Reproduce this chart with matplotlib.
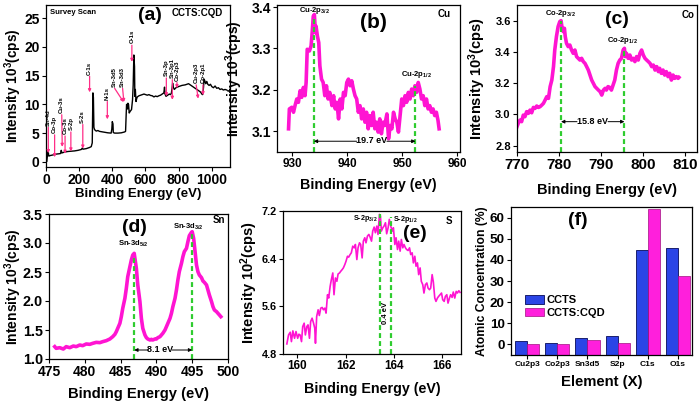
import numpy as np
import matplotlib
matplotlib.use("Agg")
import matplotlib.pyplot as plt

plt.rcParams['font.family'] = ['Liberation Sans', 'DejaVu Sans']
plt.rcParams['font.weight'] = 'bold'
plt.rcParams['axes.labelweight'] = 'bold'
plt.rcParams['mathtext.fontset'] = 'custom'
plt.rcParams['mathtext.rm'] = 'Liberation Sans:bold'
plt.rcParams['mathtext.bf'] = 'Liberation Sans:bold'
plt.rcParams['mathtext.default'] = 'bf'

# ---------------- data ----------------
# (a) survey scan
a_energy = [5, 12, 17, 26, 42, 62, 78, 88, 92, 96, 112, 132, 152, 172, 193, 213, 219, 223, 243, 263,
            273, 279, 283, 286, 289, 293, 297, 303, 313, 323, 343, 363, 373, 393, 397, 400, 404, 406, 414, 434,
            454, 474, 480, 484, 486, 490, 492, 494, 498, 502, 508, 516, 522, 526, 530, 534, 536, 539, 543, 547,
            551, 561, 571, 581, 591, 601, 611, 621, 631, 641, 651, 661, 671, 681, 691, 701, 711, 715, 718, 724,
            734, 744, 750, 756, 760, 764, 768, 774, 784, 800, 820, 840, 860, 870, 880, 890, 900, 910, 920, 930,
            936, 940, 945, 950, 954, 958, 964, 970, 976, 984, 992, 1000, 1010, 1020, 1030, 1040, 1050, 1060, 1070, 1080,
            1090]
a_counts = [0.1, 2.1, 1.0, 1.1, 1.2, 1.35, 1.4, 1.45, 2.0, 1.55, 1.7, 1.8, 1.85, 1.9, 2.0, 2.15, 2.4, 2.2, 2.3, 2.5,
            2.65, 3.3, 12.0, 11.2, 6.0, 5.6, 5.5, 5.35, 5.45, 5.3, 5.2, 5.1, 5.05, 5.0, 5.7, 7.0, 6.6, 5.1, 5.0, 5.0,
            5.05, 5.2, 5.3, 8.5, 10.0, 9.8, 9.2, 10.2, 10.0, 8.5, 8.8, 9.1, 10.8, 13.4, 18.6, 16.6, 11.4, 12.6, 10.5, 11.0,
            11.3, 11.5, 11.6, 11.7, 11.8, 11.7, 11.6, 11.7, 11.55, 11.5, 11.3, 11.45, 11.35, 11.5, 11.6, 11.8, 12.0, 13.0, 11.8, 11.4,
            11.6, 11.8, 11.7, 11.9, 12.7, 13.7, 13.0, 12.6, 12.9, 13.1, 13.3, 13.4, 13.6, 13.4, 13.2, 13.0, 12.8, 12.6, 12.4, 12.2,
            12.0, 11.8, 11.7, 12.9, 14.4, 14.1, 13.6, 14.0, 13.5, 13.3, 13.5, 13.1, 12.9, 13.2, 12.8, 12.9, 12.6, 12.7, 12.5, 12.6,
            12.5]
a_labels = ['Sn-4d', 'Co-3p', 'Cu-3s', 'Co-3s', 'S-2p', 'S-2s', 'C-1s', 'N-1s', 'Sn-3d5', 'Sn-3d3',
            'O-1s', 'Sn-3p', 'Sn-3p1', 'Co-2p3', 'Cu-2p3', 'Co-2p1']
a_label_x = [14, 52, 95, 115, 150, 222, 263, 370, 414, 462, 518, 726, 762, 790, 906, 947]
a_arrow_tip_x = [14, 52, 98, 115, 150, 222, 263, 370, 468, 470, 518, 726, 762, 790, 918, 947]
a_arrow_top = [6.0, 4.7, 8.2, 4.5, 5.2, 6.5, 14.9, 10.5, 12.8, 12.8, 20.3, 14.6, 14.3, 13.8, 13.4, 13.4]
a_arrow_tip = [1.5, 0.8, 2.6, 1.4, 1.8, 2.3, 12.1, 7.4, 10.4, 10.4, 17.4, 11.4, 10.8, 12.8, 11.0, 11.6]

# (b) Cu 2p
b_energy = [929.3, 929.45, 929.9, 930.2, 930.5, 930.8, 931.1, 931.4, 931.7, 932.0, 932.3, 932.5, 932.7, 933.1,
            933.4, 933.6, 933.8, 934.0, 934.2, 934.3, 934.55, 934.8, 935.0, 935.3,
            935.6, 935.9, 936.2, 936.5, 936.8, 937.2, 937.5, 937.8, 938.1, 938.4, 938.7, 939.0, 939.3, 939.6, 939.9,
            940.2, 940.5, 940.8, 941.1, 941.4, 941.7, 942.0, 942.3, 942.6, 942.9, 943.2, 943.5, 943.8, 944.1, 944.4, 944.7,
            945.0, 945.3, 945.6, 945.9, 946.2, 946.5, 946.8, 947.2, 947.5, 947.8, 948.1, 948.4, 948.7, 949.0, 949.3, 949.6, 949.9,
            950.2, 950.5, 950.8, 951.1, 951.4, 951.7, 952.0, 952.3, 952.6, 952.9, 953.2, 953.5, 953.8, 954.1, 954.4, 954.7,
            955.0, 955.3, 955.6, 955.9, 956.2, 956.5, 956.7]
b_counts = [3.106, 3.154, 3.158, 3.146, 3.163, 3.178, 3.170, 3.198, 3.182, 3.206, 3.186, 3.218, 3.298, 3.294,
            3.306, 3.338, 3.378, 3.382, 3.338, 3.354, 3.330, 3.314, 3.258, 3.226,
            3.218, 3.186, 3.210, 3.178, 3.194, 3.162, 3.186, 3.154, 3.170, 3.130, 3.178, 3.154, 3.194, 3.186, 3.218,
            3.226, 3.210, 3.222, 3.202, 3.186, 3.178, 3.146, 3.162, 3.130, 3.154, 3.122, 3.146, 3.106, 3.138, 3.114, 3.146,
            3.106, 3.122, 3.098, 3.130, 3.094, 3.122, 3.114, 3.142, 3.082, 3.114, 3.106, 3.146, 3.130, 3.122, 3.098, 3.138, 3.178,
            3.162, 3.186, 3.170, 3.194, 3.178, 3.202, 3.186, 3.210, 3.194, 3.218, 3.202, 3.178, 3.186, 3.162, 3.178, 3.154,
            3.162, 3.146, 3.154, 3.138, 3.146, 3.126, 3.106]

# (c) Co 2p
c_energy = [770.0, 770.3, 770.7, 771.1, 771.5, 771.9, 772.3, 772.7, 773.1, 773.5, 773.9, 774.3, 774.7, 775.1,
            775.5, 775.9, 776.3, 776.7, 777.1, 777.5, 777.9, 778.3, 778.7, 779.0, 779.4, 779.8, 780.2,
            780.5, 780.7, 781.0, 781.3, 781.5,
            781.8, 782.2, 782.6, 783.0, 783.4, 783.8, 784.2, 784.6, 785.0, 785.4, 785.8, 786.2, 786.6, 787.0, 787.4,
            787.8, 788.2, 788.6, 789.0, 789.4, 789.8, 790.2, 790.6, 791.0, 791.3, 791.7, 792.1, 792.5, 792.9, 793.3,
            793.7, 794.1, 794.5, 794.9, 795.3,
            795.6, 795.8,
            796.1, 796.5, 796.9, 797.3, 797.7, 798.1, 798.5, 798.9, 799.3, 799.7, 800.1, 800.5, 800.9, 801.3, 801.7,
            802.1, 802.5, 802.9, 803.3, 803.7, 804.0, 804.4, 804.8, 805.2, 805.6, 806.0, 806.4, 806.8, 807.2, 807.6,
            808.0, 808.4,
            808.6]
c_counts = [2.922, 2.943, 2.964, 2.954, 2.996, 2.986, 3.018, 3.007, 3.028, 3.011, 3.045, 3.039, 3.054, 3.045,
            3.050, 3.060, 3.071, 3.092, 3.114, 3.103, 3.178, 3.220, 3.306, 3.412, 3.498, 3.562, 3.594,
            3.600, 3.562, 3.530, 3.551, 3.498,
            3.455, 3.434, 3.444, 3.412, 3.391, 3.412, 3.370, 3.359, 3.348, 3.359, 3.338, 3.327, 3.306, 3.284, 3.252,
            3.220, 3.199, 3.178, 3.167, 3.156, 3.146, 3.124, 3.156, 3.167, 3.156, 3.178, 3.173, 3.156, 3.188, 3.220,
            3.284, 3.327, 3.348, 3.359, 3.412,
            3.423, 3.370,
            3.391, 3.359, 3.380, 3.348, 3.359, 3.338, 3.370, 3.348, 3.391, 3.412, 3.380, 3.359, 3.348, 3.338, 3.327,
            3.306, 3.316, 3.284, 3.306, 3.274, 3.295, 3.263, 3.284, 3.252, 3.274, 3.242, 3.263, 3.220, 3.252, 3.231,
            3.242, 3.231,
            3.237]

# (d) Sn 3d
d_energy = [475.8, 476.0, 476.5, 477.0, 477.4, 477.9, 478.4, 478.8, 479.3, 479.7, 480.2, 480.7, 481.1, 481.6,
            482.1, 482.5, 483.0, 483.5, 483.9, 484.2, 484.4, 484.6, 484.9, 485.1, 485.3, 485.6, 485.8, 486.0,
            486.3, 486.5, 486.7, 486.9, 487.0, 487.2, 487.4, 487.7, 487.9, 488.1, 488.4, 488.6, 488.8, 489.1,
            489.3, 489.5, 489.8, 490.0, 490.2, 490.5, 490.7, 490.9, 491.2, 491.4, 491.6, 491.9, 492.1, 492.3,
            492.6, 492.8, 493.0, 493.2, 493.5, 493.7, 493.9, 494.2, 494.4, 494.6, 494.9, 495.0, 495.2, 495.4,
            495.6, 495.8, 496.0, 496.3, 496.5, 496.7, 497.0, 497.2, 497.4, 497.7, 497.9, 498.1, 498.4, 498.6,
            498.8, 499.0]
d_counts = [1.213, 1.184, 1.195, 1.172, 1.213, 1.195, 1.224, 1.213, 1.241, 1.230, 1.259, 1.253, 1.270, 1.287,
            1.282, 1.299, 1.316, 1.345, 1.385, 1.425, 1.471, 1.529, 1.615, 1.730, 1.874, 2.046, 2.218, 2.420,
            2.592, 2.707, 2.793, 2.822, 2.736, 2.563, 2.276, 1.989, 1.701, 1.529, 1.414, 1.368, 1.345, 1.328,
            1.339, 1.328, 1.345, 1.345, 1.368, 1.385, 1.414, 1.443, 1.500, 1.557, 1.615, 1.701, 1.787, 1.902,
            2.046, 2.190, 2.362, 2.506, 2.649, 2.764, 2.851, 2.908, 3.023, 3.126, 3.184, 3.195, 3.080, 2.851,
            2.621, 2.506, 2.448, 2.402, 2.345, 2.322, 2.276, 2.190, 2.103, 1.989, 1.902, 1.845, 1.816, 1.787,
            1.759, 1.730]

# (e) S 2p
e_energy = [159.56, 159.63, 159.70, 159.75, 159.81, 159.88, 159.94, 160.01, 160.06, 160.11,
            160.17, 160.22, 160.28, 160.33, 160.39, 160.44, 160.50, 160.55, 160.61, 160.67,
            160.72, 160.75, 160.80, 160.86, 160.91, 160.97, 161.03, 161.08, 161.14, 161.19,
            161.25, 161.30, 161.36, 161.41, 161.47, 161.52, 161.58, 161.64, 161.69, 161.75,
            161.80, 161.86, 161.91, 161.97, 162.02, 162.08, 162.13, 162.19, 162.24, 162.30,
            162.36, 162.41, 162.47, 162.52, 162.58, 162.63, 162.69, 162.74, 162.80, 162.85,
            162.91, 162.97, 163.02, 163.08, 163.13, 163.19, 163.24, 163.30, 163.35, 163.41,
            163.45, 163.49, 163.55, 163.60, 163.66, 163.71, 163.77, 163.82, 163.88, 163.94,
            163.99, 164.05, 164.10, 164.16, 164.21, 164.27, 164.32, 164.38, 164.43, 164.49,
            164.54, 164.60, 164.66, 164.71, 164.77, 164.82, 164.88, 164.93, 164.99, 165.04,
            165.10, 165.15, 165.21, 165.26, 165.32, 165.38, 165.43, 165.49, 165.54, 165.60,
            165.65, 165.71, 165.76, 165.82, 165.87, 165.93, 165.99, 166.04, 166.10, 166.15,
            166.21, 166.26, 166.32, 166.37, 166.43, 166.48, 166.54, 166.60, 166.65, 166.71,
            166.76]
e_counts = [4.969, 5.120, 5.165, 5.008, 5.188, 5.064, 5.177, 5.064, 5.132, 5.120,
            5.008, 5.261, 5.317, 5.120, 5.261, 5.289, 5.064, 5.345, 5.401, 5.317,
            5.233, 4.980, 5.430, 5.542, 5.446, 5.570, 5.581, 5.542, 5.570, 5.486,
            5.795, 5.739, 5.935, 6.048, 6.160, 5.795, 6.076, 6.020, 6.143, 6.160,
            6.188, 6.217, 6.245, 6.301, 6.357, 6.441, 6.425, 6.469, 6.498, 6.610,
            6.582, 6.638, 6.385, 6.582, 6.666, 6.638, 6.413, 6.694, 6.751, 6.666,
            6.779, 6.807, 6.762, 6.694, 6.863, 6.930, 6.835, 6.947, 6.807, 7.144,
            7.116, 6.863, 6.919, 6.947, 7.003, 6.818, 6.919, 7.060, 6.947, 6.863,
            6.919, 6.638, 6.751, 6.554, 6.694, 6.526, 6.722, 6.582, 6.638, 6.582,
            6.554, 6.537, 6.582, 6.469, 6.498, 6.329, 6.441, 6.273, 6.329, 6.132,
            6.245, 6.020, 5.964, 5.823, 5.964, 5.992, 5.907, 5.879, 5.907, 6.132,
            6.009, 5.739, 5.683, 5.739, 5.767, 5.795, 5.823, 5.711, 5.683, 5.767,
            5.795, 5.654, 5.739, 5.795, 5.750, 5.840, 5.739, 5.851, 5.823, 5.862,
            5.834]

# (f) atomic concentration
f_elements = ['Cu2p3', 'Co2p3', 'Sn3d5', 'S2p', 'C1s', 'O1s']
f_ccts = [1.7, 0.5, 3.1, 3.9, 44.6, 45.4]
f_cqd = [0.1, 0.2, 2.2, 0.5, 63.9, 32.2]

# peak positions (green markers)
b_peaks = [933.9, 952.4]
b_peak_tops = [3.37, 3.21]
c_peaks = [780.5, 795.6]
c_peak_tops = [3.60, 3.42]
d_peaks = [486.9, 495.0]
d_peak_tops = [2.80, 3.15]
e_peaks = [163.44, 163.89]
e_peak_tops = [7.15, 7.10]

# ---------------- styling ----------------
PINK = '#ff14d2'
GREEN = '#2fcc2f'
ARROW = '#ff2d87'

fig = plt.figure(figsize=(7.0, 4.01), dpi=100)

def frame(ax, xt_size, yt_size):
    for s in ax.spines.values():
        s.set_linewidth(0.9)
    ax.tick_params(direction='out', length=3, width=0.8, top=False, right=False)
    ax.tick_params(axis='x', labelsize=xt_size, pad=1.5)
    ax.tick_params(axis='y', labelsize=yt_size, pad=1.5)
    for lab in ax.get_xticklabels() + ax.get_yticklabels():
        lab.set_fontweight('bold')

# ---- (a)
ax = fig.add_axes([46/700, 1-167/401, 184/700, 162/401])
ax.plot(a_energy, a_counts, color='black', lw=1.0)
ax.set_xlim(0, 1110)
ax.set_ylim(-0.9, 27.3)
ax.set_xticks([0, 200, 400, 600, 800, 1000])
ax.set_yticks([0, 5, 10, 15, 20, 25])
frame(ax, 10, 10)
for lab, lx, tx, top, tip in zip(a_labels, a_label_x, a_arrow_tip_x, a_arrow_top, a_arrow_tip):
    ax.annotate('', xy=(tx, tip), xytext=(lx, top),
                arrowprops=dict(arrowstyle='-|>', color=ARROW, lw=0.9, mutation_scale=4,
                                shrinkA=0, shrinkB=0))
    ax.text(lx, top + 0.3, lab, rotation=90, ha='center', va='bottom', fontsize=4.3,
            fontweight='bold', color='black')
ax.text(0.022, 0.955, 'Survey Scan', transform=ax.transAxes, fontsize=5.5, fontweight='bold',
        ha='left', va='center')
ax.text(0.96, 0.95, 'CCTS:CQD', transform=ax.transAxes, fontsize=7, fontweight='bold',
        ha='right', va='center')
ax.text(0.565, 0.938, '(a)', transform=ax.transAxes, fontsize=14, fontweight='bold',
        ha='center', va='center')
ax.set_xlabel('Binding Energy (eV)', fontsize=9.5)
ax.set_ylabel('Intensity 10$^3$(cps)', fontsize=9.8)
ax.xaxis.set_label_coords(0.5, -0.13)
ax.yaxis.set_label_coords(-0.12, 0.5)

# ---- (b)
ax = fig.add_axes([277/700, 1-152/401, 183/700, 147/401])
ax.plot(b_energy, b_counts, color=PINK, lw=2.6)
for px, pt in zip(b_peaks, b_peak_tops):
    ax.plot([px, px], [3.05, pt], color=GREEN, lw=1.6, ls=(0, (2.2, 1.4)))
ax.set_xlim(927.2, 960.5)
ax.set_ylim(3.05, 3.405)
ax.set_xticks([930, 940, 950, 960])
ax.set_yticks([3.1, 3.2, 3.3, 3.4])
frame(ax, 8.5, 10)
ax.text(944.4, 3.078, '19.7 eV', fontsize=6.5, fontweight='bold', ha='center', va='center')
ax.annotate('', xy=(b_peaks[0], 3.076), xytext=(941.7, 3.076),
            arrowprops=dict(arrowstyle='-|>', color='black', lw=0.7, mutation_scale=5, shrinkA=0, shrinkB=0))
ax.annotate('', xy=(b_peaks[1], 3.076), xytext=(947.2, 3.076),
            arrowprops=dict(arrowstyle='-|>', color='black', lw=0.7, mutation_scale=5, shrinkA=0, shrinkB=0))
ax.text(934.0, 3.392, 'Cu-2p$_{3/2}$', fontsize=5.5, ha='center', va='center')
ax.text(952.6, 3.236, 'Cu-2p$_{1/2}$', fontsize=5.5, ha='center', va='center')
ax.text(0.95, 0.942, 'Cu', transform=ax.transAxes, fontsize=7, fontweight='bold', ha='right', va='center')
ax.text(0.525, 0.884, '(b)', transform=ax.transAxes, fontsize=15, fontweight='bold', ha='center', va='center')
ax.set_xlabel('Binding Energy (eV)', fontsize=10.3)
ax.set_ylabel('Intensity 10$^3$(cps)', fontsize=10)
ax.xaxis.set_label_coords(0.5, -0.177)
ax.yaxis.set_label_coords(-0.175, 0.5)

# ---- (c)
ax = fig.add_axes([517/700, 1-152/401, 180/700, 147/401])
ax.plot(c_energy, c_counts, color=PINK, lw=2.6)
for px, pt in zip(c_peaks, c_peak_tops):
    ax.plot([px, px], [2.76, pt], color=GREEN, lw=1.6, ls=(0, (2.2, 1.4)))
ax.set_xlim(770, 812.9)
ax.set_ylim(2.76, 3.70)
ax.set_xticks([770, 780, 790, 800, 810])
ax.set_yticks([2.8, 3.0, 3.2, 3.4, 3.6])
frame(ax, 11, 8)
ax.text(788.0, 2.956, '15.8 eV', fontsize=6.5, fontweight='bold', ha='center', va='center')
ax.annotate('', xy=(c_peaks[0], 2.954), xytext=(784.3, 2.954),
            arrowprops=dict(arrowstyle='-|>', color='black', lw=0.7, mutation_scale=5, shrinkA=0, shrinkB=0))
ax.annotate('', xy=(c_peaks[1], 2.954), xytext=(791.7, 2.954),
            arrowprops=dict(arrowstyle='-|>', color='black', lw=0.7, mutation_scale=5, shrinkA=0, shrinkB=0))
ax.text(780.3, 3.648, 'Co-2p$_{3/2}$', fontsize=5.5, ha='center', va='center')
ax.text(795.2, 3.476, 'Co-2p$_{1/2}$', fontsize=5.5, ha='center', va='center')
ax.text(0.985, 0.935, 'Co', transform=ax.transAxes, fontsize=7, fontweight='bold', ha='right', va='center')
ax.text(0.556, 0.898, '(c)', transform=ax.transAxes, fontsize=14, fontweight='bold', ha='center', va='center')
ax.set_xlabel('Binding Energy (eV)', fontsize=10.5)
ax.set_ylabel('Intensity 10$^3$(cps)', fontsize=10.5)
ax.xaxis.set_label_coords(0.5, -0.21)
ax.yaxis.set_label_coords(-0.161, 0.5)

# ---- (d)
ax = fig.add_axes([49/700, 1-359/401, 179/700, 145/401])
ax.plot(d_energy, d_counts, color=PINK, lw=2.6)
for px, pt in zip(d_peaks, d_peak_tops):
    ax.plot([px, px], [1.0, pt], color=GREEN, lw=1.6, ls=(0, (2.2, 1.4)))
ax.set_xlim(475, 500)
ax.set_ylim(1.0, 3.5)
ax.set_xticks([475, 480, 485, 490, 495, 500])
ax.set_yticks([1.0, 1.5, 2.0, 2.5, 3.0, 3.5])
ax.set_yticklabels(['1.0', '1.5', '2.0', '2.5', '3.0', '3.5'])
frame(ax, 10, 10.4)
ax.text(490.5, 1.157, '8.1 eV', fontsize=6.5, fontweight='bold', ha='center', va='center')
ax.annotate('', xy=(d_peaks[0], 1.155), xytext=(488.9, 1.155),
            arrowprops=dict(arrowstyle='-|>', color='black', lw=0.7, mutation_scale=5, shrinkA=0, shrinkB=0))
ax.annotate('', xy=(d_peaks[1], 1.155), xytext=(492.2, 1.155),
            arrowprops=dict(arrowstyle='-|>', color='black', lw=0.7, mutation_scale=5, shrinkA=0, shrinkB=0))
ax.text(486.7, 2.98, 'Sn-3d$_{5/2}$', fontsize=5.5, ha='center', va='center')
ax.text(494.4, 3.28, 'Sn-3d$_{3/2}$', fontsize=5.5, ha='center', va='center')
ax.text(0.985, 0.96, 'Sn', transform=ax.transAxes, fontsize=7, fontweight='bold', ha='right', va='center')
ax.text(0.48, 0.91, '(d)', transform=ax.transAxes, fontsize=14, fontweight='bold', ha='center', va='center')
ax.set_xlabel('Binding Energy (eV)', fontsize=10.6)
ax.set_ylabel('Intensity 10$^3$(cps)', fontsize=10)
ax.xaxis.set_label_coords(0.5, -0.193)
ax.yaxis.set_label_coords(-0.14, 0.5)

# ---- (e)
ax = fig.add_axes([283/700, 1-354/401, 178/700, 143/401])
ax.plot(e_energy, e_counts, color=PINK, lw=1.2)
for px, pt in zip(e_peaks, e_peak_tops):
    ax.plot([px, px], [4.8, pt], color=GREEN, lw=1.6, ls=(0, (2.2, 1.4)))
ax.set_xlim(159.4, 166.8)
ax.set_ylim(4.8, 7.2)
ax.set_xticks([160, 162, 164, 166])
ax.set_yticks([4.8, 5.6, 6.4, 7.2])
frame(ax, 8.5, 7.8)
ax.text(163.68, 5.49, '0.4 eV', rotation=90, fontsize=5.5, fontweight='bold', ha='center', va='center')
ax.text(163.35, 7.08, 'S-2p$_{3/2}$', fontsize=5.2, ha='right', va='center')
ax.text(163.98, 7.06, 'S-2p$_{1/2}$', fontsize=5.2, ha='left', va='center')
ax.text(0.935, 0.93, 'S', transform=ax.transAxes, fontsize=7, fontweight='bold', ha='center', va='center')
ax.text(0.74, 0.846, '(e)', transform=ax.transAxes, fontsize=14, fontweight='bold', ha='center', va='center')
ax.set_xlabel('Binding Energy (eV)', fontsize=10.3)
ax.set_ylabel('Intensity 10$^2$(cps)', fontsize=10.5)
ax.xaxis.set_label_coords(0.5, -0.196)
ax.yaxis.set_label_coords(-0.13, 0.5)

# ---- (f)
ax = fig.add_axes([511/700, 1-355/401, 181/700, 148/401])
base = -5
xpos = np.arange(len(f_elements))
w = 0.4
ax.bar(xpos - w, np.array(f_ccts) - base, bottom=base, width=w, align='edge',
       color='#2b45e6', edgecolor='#1a1f6e', lw=0.7, label='CCTS')
ax.bar(xpos, np.array(f_cqd) - base, bottom=base, width=w, align='edge',
       color='#ff1fdc', edgecolor='#a0107f', lw=0.5, label='CCTS:CQD')
ax.set_xlim(-0.53, 5.46)
ax.set_ylim(-5, 65)
ax.set_xticks(xpos)
ax.set_xticklabels(f_elements)
ax.set_yticks([0, 10, 20, 30, 40, 50, 60])
frame(ax, 6, 9.7)
ax.legend(loc='upper left', bbox_to_anchor=(0.02, 0.47), frameon=False, fontsize=8,
          handlelength=1.7, handleheight=0.75, handletextpad=0.3, labelspacing=0.25,
          prop={'weight': 'bold', 'size': 8})
ax.text(0.37, 0.912, '(f)', transform=ax.transAxes, fontsize=14, fontweight='bold', ha='center', va='center')
ax.set_xlabel('Element (X)', fontsize=10.7)
ax.set_ylabel('Atomic Concentration (%)', fontsize=8.7)
ax.xaxis.set_label_coords(0.5, -0.135)
ax.yaxis.set_label_coords(-0.127, 0.5)

fig.savefig('out.png', dpi=100)
